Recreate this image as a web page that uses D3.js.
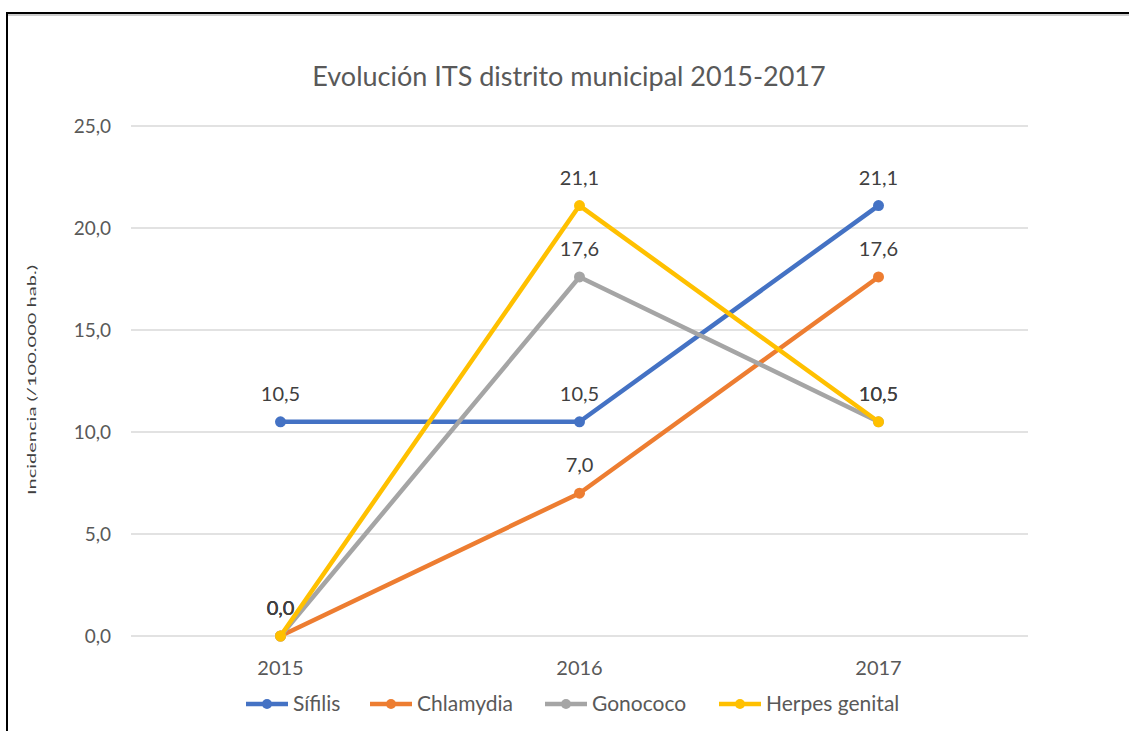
<!DOCTYPE html>
<html>
<head>
<meta charset="utf-8">
<script src="https://cdn.jsdelivr.net/npm/d3@7"></script>
<style>
  body { margin: 0; background: #fff; }
  svg { display: block; font-family: Lato, "Open Sans", sans-serif; }
</style>
</head>
<body>
<svg id="chart" width="1129" height="731"></svg>
<script>
// DATA
var years = ["2015", "2016", "2017"];
var sifilis = [10.5, 10.5, 21.1];
var chlamydia = [0.0, 7.0, 17.6];
var gonococo = [0.0, 17.6, 10.5];
var herpes = [0.0, 21.1, 10.5];
var seriesNames = ["Sífilis", "Chlamydia", "Gonococo", "Herpes genital"];
var yTicks = [0, 5, 10, 15, 20, 25];

var colors = ["#4472C4", "#ED7D31", "#A5A5A5", "#FFC000"];
var series = [sifilis, chlamydia, gonococo, herpes].map(function (v, i) {
    return { name: seriesNames[i], values: v, color: colors[i] };
});

var svg = d3.select("#chart");
var fmt = function (d) { return d3.format(".1f")(d).replace(".", ","); };

// frame
svg.append("line").attr("x1", 7).attr("y1", 14).attr("x2", 1129).attr("y2", 14)
    .attr("stroke", "#ccc").attr("stroke-width", 4);
svg.append("line").attr("x1", 7).attr("y1", 13).attr("x2", 1129).attr("y2", 13)
    .attr("stroke", "#000").attr("stroke-width", 2);
svg.append("line").attr("x1", 7).attr("y1", 12).attr("x2", 7).attr("y2", 731)
    .attr("stroke", "#000").attr("stroke-width", 2);

// scales
var x = d3.scaleBand().domain(years).range([131, 1028]);
var y = d3.scaleLinear().domain([0, 25]).range([636, 126]);
var cx = function (i) { return x(years[i]) + x.bandwidth() / 2; };

// grid
svg.append("g").selectAll("line").data(yTicks).join("line")
    .attr("x1", 131).attr("x2", 1028)
    .attr("y1", function (d) { return y(d); }).attr("y2", function (d) { return y(d); })
    .attr("stroke", "#d9d9d9").attr("stroke-width", 1.3);

// y axis labels
svg.append("g").selectAll("text").data(yTicks).join("text")
    .attr("x", 111).attr("y", function (d) { return y(d); })
    .attr("dy", "0.35em").attr("text-anchor", "end")
    .attr("font-size", 19).attr("fill", "#595959")
    .text(fmt);

// x axis labels
svg.append("g").selectAll("text").data(years).join("text")
    .attr("x", function (d, i) { return cx(i); }).attr("y", 668)
    .attr("dy", "0.35em").attr("text-anchor", "middle")
    .attr("font-size", 20).attr("fill", "#595959")
    .text(function (d) { return d; });

// title
svg.append("text").attr("x", 569).attr("y", 77).attr("dy", "0.35em")
    .attr("text-anchor", "middle").attr("font-size", 27).attr("fill", "#595959")
    .text("Evolución ITS distrito municipal 2015-2017");

// y axis title (squashed like the original)
svg.append("text")
    .attr("transform", "translate(32,380) rotate(-90)")
    .attr("text-anchor", "middle").attr("dy", "0.35em")
    .attr("font-size", 12).attr("fill", "#404040")
    .attr("textLength", 230).attr("lengthAdjust", "spacingAndGlyphs")
    .text("Incidencia (/100.000 hab.)");

// lines + markers
var line = d3.line()
    .x(function (d, i) { return cx(i); })
    .y(function (d) { return y(d); });

series.forEach(function (s) {
    svg.append("path").datum(s.values)
        .attr("d", line).attr("fill", "none")
        .attr("stroke", s.color).attr("stroke-width", 4.5)
        .attr("stroke-linejoin", "round");
    svg.append("g").selectAll("circle").data(s.values).join("circle")
        .attr("cx", function (d, i) { return cx(i); })
        .attr("cy", function (d) { return y(d); })
        .attr("r", 5.5).attr("fill", s.color);
});

// data labels
series.forEach(function (s) {
    svg.append("g").selectAll("text").data(s.values).join("text")
        .attr("x", function (d, i) { return cx(i); })
        .attr("y", function (d) { return y(d) - 28; })
        .attr("dy", "0.35em").attr("text-anchor", "middle")
        .attr("font-size", 20).attr("fill", "#404040")
        .text(fmt);
});

// legend
var legendX = [246, 370, 545, 719];
var lg = svg.append("g").selectAll("g").data(series).join("g")
    .attr("transform", function (d, i) { return "translate(" + legendX[i] + ",704)"; });
lg.append("line").attr("x1", 0).attr("x2", 42).attr("y1", 0).attr("y2", 0)
    .attr("stroke", function (d) { return d.color; }).attr("stroke-width", 4.5);
lg.append("circle").attr("cx", 21).attr("cy", 0).attr("r", 5)
    .attr("fill", function (d) { return d.color; });
lg.append("text").attr("x", 47).attr("y", 0).attr("dy", "0.35em")
    .attr("font-size", 21).attr("fill", "#595959")
    .text(function (d) { return d.name; });
</script>
</body>
</html>
